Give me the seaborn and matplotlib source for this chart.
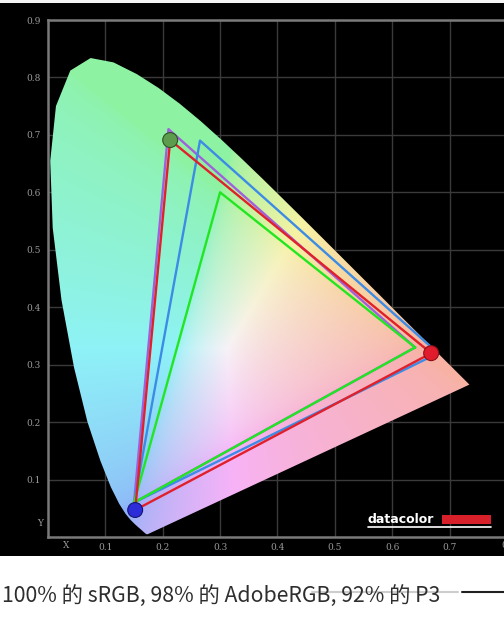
import matplotlib
matplotlib.use("Agg")
import matplotlib.pyplot as plt
import numpy as np
import pandas as pd
import seaborn as sns
from matplotlib.patches import Polygon, Rectangle
from matplotlib.lines import Line2D

# CIE 1931 spectral locus, 380-700 nm
locus_x = [0.1741, 0.1740, 0.1738, 0.1736, 0.1733, 0.1730, 0.1726, 0.1721, 0.1714, 0.1703,
           0.1689, 0.1669, 0.1644, 0.1611, 0.1566, 0.1510, 0.1440, 0.1355, 0.1241, 0.1096,
           0.0913, 0.0687, 0.0454, 0.0235, 0.0082, 0.0039, 0.0139, 0.0389, 0.0743, 0.1142,
           0.1547, 0.1929, 0.2296, 0.2658, 0.3016, 0.3373, 0.3731, 0.4087, 0.4441, 0.4788,
           0.5125, 0.5448, 0.5752, 0.6029, 0.6270, 0.6482, 0.6658, 0.6801, 0.6915, 0.7006,
           0.7079, 0.7140, 0.7190, 0.7230, 0.7260, 0.7283, 0.7300, 0.7311, 0.7320, 0.7334,
           0.7344, 0.7347]
locus_y = [0.0050, 0.0050, 0.0049, 0.0049, 0.0048, 0.0048, 0.0048, 0.0048, 0.0051, 0.0058,
           0.0069, 0.0086, 0.0109, 0.0138, 0.0177, 0.0227, 0.0297, 0.0399, 0.0578, 0.0868,
           0.1327, 0.2007, 0.2950, 0.4127, 0.5384, 0.6548, 0.7502, 0.8120, 0.8338, 0.8262,
           0.8059, 0.7816, 0.7543, 0.7243, 0.6923, 0.6589, 0.6245, 0.5896, 0.5547, 0.5202,
           0.4866, 0.4544, 0.4242, 0.3965, 0.3725, 0.3514, 0.3340, 0.3197, 0.3083, 0.2993,
           0.2920, 0.2859, 0.2809, 0.2770, 0.2740, 0.2717, 0.2700, 0.2689, 0.2680, 0.2666,
           0.2656, 0.2653]

# gamut triangles (red, green, blue primaries)
gamut_names = ["AdobeRGB", "P3", "sRGB", "Display"]
gamut_x = {
    "AdobeRGB": [0.64, 0.21, 0.15],
    "P3": [0.68, 0.265, 0.15],
    "sRGB": [0.64, 0.30, 0.15],
    "Display": [0.668, 0.213, 0.152],
}
gamut_y = {
    "AdobeRGB": [0.33, 0.71, 0.06],
    "P3": [0.32, 0.69, 0.06],
    "sRGB": [0.33, 0.60, 0.06],
    "Display": [0.320, 0.691, 0.047],
}
gamut_colors = {"AdobeRGB": "#a060dc", "P3": "#3c8ce6", "sRGB": "#22e622", "Display": "#e0202a"}
primary_colors = ["#e01c2c", "#5c9c4c", "#2c2cd8"]
primary_edges = ["#901018", "#2e5426", "#161670"]

x_ticks = [0.1, 0.2, 0.3, 0.4, 0.5, 0.6, 0.7]
y_ticks = [0.1, 0.2, 0.3, 0.4, 0.5, 0.6, 0.7, 0.8, 0.9]
caption = "100% 的 sRGB, 98% 的 AdobeRGB, 92% 的 P3"

sns.set_style("dark")
plt.rcParams["font.family"] = ["Noto Sans CJK SC", "DejaVu Sans"]

W, H = 504, 626
fig = plt.figure(figsize=(W / 100, H / 100), dpi=100)
fig.patch.set_facecolor("#f4f4f4")
fig.patches.append(Rectangle((0, 0), 1, (H - 556) / H, transform=fig.transFigure,
                             facecolor="white", edgecolor="none", zorder=-6))
fig.patches.append(Rectangle((0, (H - 556) / H), 1, (556 - 3) / H, transform=fig.transFigure,
                             facecolor="black", edgecolor="none", zorder=-5))

ax = fig.add_axes([48 / W, (H - 537) / H, (W - 48) / W, 517 / H])
ax.set_facecolor("black")
ax.set_xlim(0, 0.795)
ax.set_ylim(0, 0.9)

# chromaticity colour field, clipped to the locus
gx = np.linspace(0.0005, 0.8, 500)
gy = np.linspace(0.0005, 0.9, 560)
xx, yy = np.meshgrid(gx, gy)
XX = xx / yy
ZZ = (1 - xx - yy) / yy
M = np.array([[3.2406, -1.5372, -0.4986],
              [-0.9689, 1.8758, 0.0415],
              [0.0557, -0.2040, 1.0570]])
rgb = np.stack([M[i, 0] * XX + M[i, 1] + M[i, 2] * ZZ for i in range(3)], axis=-1)
rgb = np.clip(rgb, 0, None)
rgb = rgb / rgb.max(axis=-1, keepdims=True)
rgb = rgb ** (1 / 2.0)
# pastel rendering: lift each channel toward white
rgb[..., 0] = 0.56 + 0.41 * rgb[..., 0]
rgb[..., 1] = 0.70 + 0.25 * rgb[..., 1]
rgb[..., 2] = 0.64 + 0.33 * rgb[..., 2]
img = ax.imshow(rgb, origin="lower", extent=(0.0005, 0.8, 0.0005, 0.9), aspect="auto",
                interpolation="bilinear", zorder=1)
clip = Polygon(np.column_stack([locus_x, locus_y]), closed=True, transform=ax.transData,
               facecolor="none", edgecolor="none")
ax.add_patch(clip)
img.set_clip_path(clip)

# triangles
rows = []
for name in gamut_names:
    xs = gamut_x[name] + gamut_x[name][:1]
    ys = gamut_y[name] + gamut_y[name][:1]
    for i, (px, py) in enumerate(zip(xs, ys)):
        rows.append({"x": px, "y": py, "gamut": name, "order": i})
tri = pd.DataFrame(rows)
sns.lineplot(data=tri, x="x", y="y", hue="gamut", hue_order=gamut_names, palette=gamut_colors,
             sort=False, estimator=None, linewidth=1.7, legend=False, ax=ax, zorder=3)

# measured primaries as balls
balls = pd.DataFrame({"x": gamut_x["Display"], "y": gamut_y["Display"],
                      "primary": ["R", "G", "B"]})
sns.scatterplot(data=balls, x="x", y="y", hue="primary",
                palette=dict(zip(["R", "G", "B"], primary_colors)), s=115,
                edgecolor=primary_edges, linewidth=0.8, legend=False, ax=ax, zorder=4)

ax.grid(True, color="#3a3a3a", linewidth=1)
ax.set_axisbelow(True)
ax.set_xticks(x_ticks)
ax.set_yticks(y_ticks)
ax.set_xticklabels([f"{t:.1f}" for t in x_ticks])
ax.set_yticklabels([f"{t:.1f}" for t in y_ticks])
ax.tick_params(colors="#9a9a9a", labelsize=6.5, length=0, pad=5)
ax.tick_params(axis="x", pad=4)
for lbl in ax.get_xticklabels() + ax.get_yticklabels():
    lbl.set_family("DejaVu Serif")
ax.set_xlabel("")
ax.set_ylabel("")
for side in ["left", "bottom", "top"]:
    ax.spines[side].set_visible(True)
    ax.spines[side].set_color("#7a7a7a")
    ax.spines[side].set_linewidth(1.8)
ax.spines["right"].set_visible(False)

fig.text(66 / W, 1 - 546 / H, "X", color="#9a9a9a", fontsize=6.5, ha="center", va="center",
         family="DejaVu Serif")
fig.text(40 / W, 1 - 523 / H, "Y", color="#9a9a9a", fontsize=6.5, ha="center", va="center",
         family="DejaVu Serif")
fig.text(509 / W, 1 - 546 / H, "0.8", color="#9a9a9a", fontsize=6.5, ha="center", va="center",
         family="DejaVu Serif")

# datacolor logo
fig.text(368 / W, 1 - 523 / H, "datacolor", color="white", fontsize=9, fontweight="bold",
         family="DejaVu Sans", ha="left", va="baseline")
fig.patches.append(Rectangle((442 / W, 1 - 524 / H), 49 / W, 9 / H, transform=fig.transFigure,
                             facecolor="#d8202a", edgecolor="none", zorder=5))
fig.lines.append(Line2D([368 / W, 491 / W], [1 - 526.5 / H, 1 - 526.5 / H],
                        transform=fig.transFigure, color="white", linewidth=1.2))

# caption
fig.text(2 / W, 1 - 596 / H, caption, color="#2e2e2e", fontsize=15.3, ha="left", va="center")
fig.lines.append(Line2D([312 / W, 458 / W], [1 - 592 / H, 1 - 592 / H],
                        transform=fig.transFigure, color="#b8b8b8", linewidth=1.5, alpha=0.7))
fig.lines.append(Line2D([462 / W, 1.0], [1 - 592 / H, 1 - 592 / H],
                        transform=fig.transFigure, color="#202020", linewidth=1.5))

fig.savefig("out.png", dpi=100, facecolor=fig.get_facecolor())
